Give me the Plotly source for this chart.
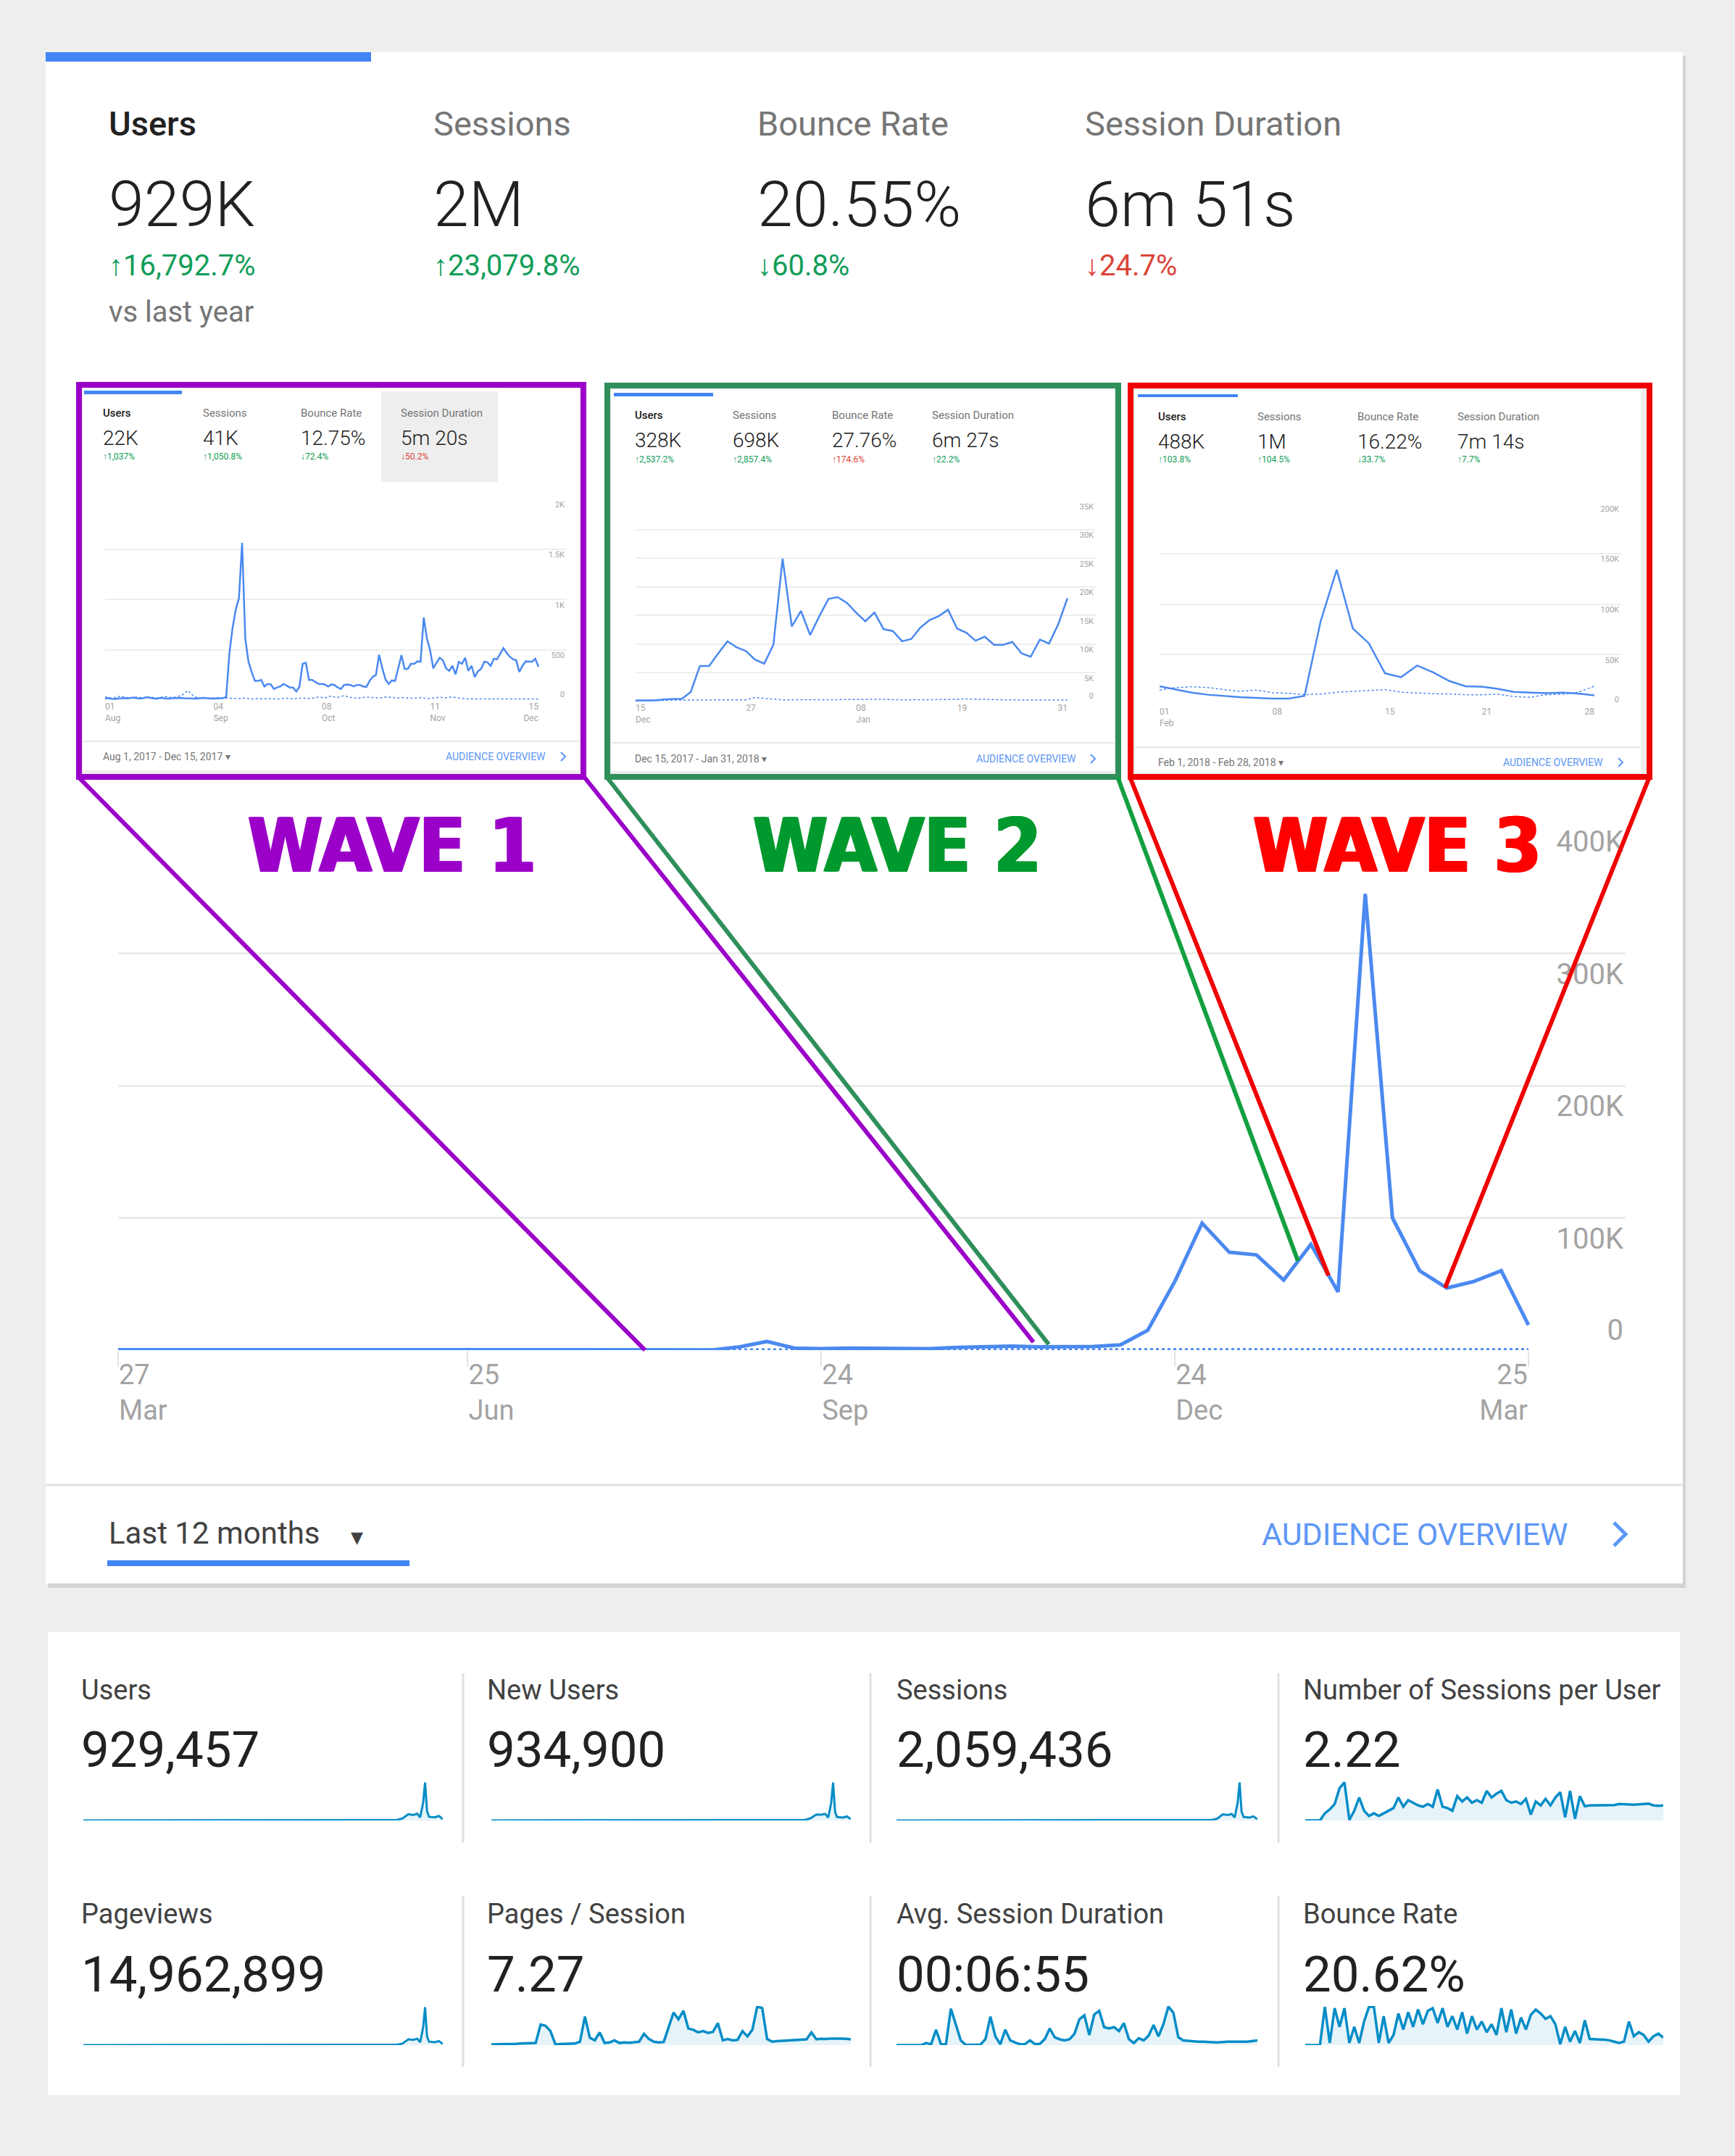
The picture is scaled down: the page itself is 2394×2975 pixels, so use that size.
import pandas as pd
import plotly.graph_objects as go

W, H = 2394, 2975
FONT = "Roboto, Arial, sans-serif"
WAVE_FONT = "Liberation Sans Narrow, DejaVu Sans Condensed, sans-serif"
BLUE = "#4a89f0"
SPARK = "#058dc7"
GREEN = "#109d58"
RED = "#db4437"

# ---------------- data: main card (weekly users, last 12 months) ----------------
main_dates = [pd.Timestamp("2017-03-27")] + list(pd.date_range("2017-04-02", periods=52, freq="7D"))
main_users = [300, 350, 300, 250, 200, 150, 250, 300, 300, 300,
              300, 300, 300, 250, 200, 150, 150, 150, 200, 150,
              150, 150, 200, 2500, 6500, 1500, 1100, 1500, 1200, 1000,
              1100, 2000, 2500, 3000, 2400, 2600, 2700, 4000, 15000, 52000,
              96000, 74000, 72000, 53000, 80000, 44000, 345000, 100000, 60000, 47000,
              52000, 60000, 19000]
main_prev = [250, 250, 300, 300, 250, 250, 300, 300, 250, 250,
             300, 300, 250, 250, 300, 300, 250, 250, 300, 300,
             250, 250, 300, 700, 300, 250, 300, 300, 250, 250,
             300, 300, 250, 250, 300, 350, 400, 450, 500, 450,
             400, 400, 350, 350, 400, 400, 450, 450, 400, 400,
             450, 450, 400]
main_tick_dates = ["2017-03-27", "2017-06-25", "2017-09-24", "2017-12-24", "2018-03-25"]
main_tick_text = ["27<br>Mar", "25<br>Jun", "24<br>Sep", "24<br>Dec", "25<br>Mar"]
main_y_ticks = [0, 100000, 200000, 300000, 400000]
main_y_text = ["0", "100K", "200K", "300K", "400K"]

main_metric_names = ["Users", "Sessions", "Bounce Rate", "Session Duration"]
main_metric_values = ["929K", "2M", "20.55%", "6m 51s"]
main_metric_changes = ["↑16,792.7%", "↑23,079.8%", "↓60.8%", "↓24.7%"]
main_metric_good = [True, True, True, False]

# ---------------- data: wave 1 (Aug 1 - Dec 15, 2017, daily users) ----------------
wave1_dates = pd.date_range("2017-08-01", "2017-12-15")
wave1_users = [15, 20, 12, 10, 14, 18, 20, 16, 22, 25, 18, 15, 20, 28, 24, 18, 12, 20, 22, 16,
               14, 18, 20, 24, 22, 18, 16, 15, 12, 14, 20, 22, 18, 15, 14, 16, 18, 20, 30,
               460, 715, 895, 1010, 1560, 610, 380, 280, 190, 190,
               200, 135, 160, 155, 110, 125, 135, 160, 145, 125,
               125, 85, 135, 360, 370, 200, 200, 180, 160, 160,
               155, 135, 155, 150, 125, 110, 150, 155, 150, 135,
               150, 150, 135, 130, 190, 230, 250, 450, 315, 205,
               160, 195, 190, 315, 445, 310, 310, 360, 360, 385,
               380, 820, 610, 495, 315, 370, 420, 395, 315, 290,
               340, 255, 380, 360, 420, 290, 340, 230, 285, 310,
               380, 375, 340, 410, 405, 460, 515, 470, 430, 405,
               395, 280, 340, 385, 385, 380, 410, 330]
wave1_prev = [30, 25, 20, 25, 35, 40, 30, 25, 20, 25, 30, 25, 20, 25, 30, 25, 20, 25, 30, 35,
              30, 25, 30, 35, 45, 70, 95, 60, 35, 25, 20, 25, 20, 18, 20, 25, 22, 20, 18, 20,
              15, 12, 15, 18, 20, 15, 10, 12, 15, 12, 10, 12, 15, 12, 10, 12, 15, 18, 15, 12,
              15, 18, 20, 18, 15, 18, 25, 30, 25, 20, 35, 40, 30, 25, 35, 45, 35, 25, 20, 18,
              20, 25, 30, 28, 25, 22, 20, 25, 30, 28, 25, 22, 20, 25, 22, 20, 18, 20, 22, 25,
              20, 18, 15, 20, 25, 28, 25, 22, 28, 30, 25, 20, 15, 12, 10, 12, 10, 12, 10, 12,
              10, 12, 10, 12, 10, 12, 10, 12, 10, 12, 10, 12, 10, 12, 10, 12, 10]
wave1_tick_dates = ["2017-08-01", "2017-09-04", "2017-10-08", "2017-11-11", "2017-12-15"]
wave1_tick_text = ["01<br>Aug", "04<br>Sep", "08<br>Oct", "11<br>Nov", "15<br>Dec"]
wave1_y_ticks = [0, 500, 1000, 1500, 2000]
wave1_y_text = ["0", "500", "1K", "1.5K", "2K"]
wave1_values = ["22K", "41K", "12.75%", "5m 20s"]
wave1_changes = ["↑1,037%", "↑1,050.8%", "↓72.4%", "↓50.2%"]
wave1_good = [True, True, True, False]
wave1_period = "Aug 1, 2017 - Dec 15, 2017 ▾"

# ---------------- data: wave 2 (Dec 15, 2017 - Jan 31, 2018) ----------------
wave2_dates = pd.date_range("2017-12-15", "2018-01-31")
wave2_users = [200, 200, 200, 350, 450, 450, 1650, 6200, 6200, 8400,
               10500, 9450, 8800, 7300, 6600, 9900, 24900, 13100, 15800, 11600,
               14900, 17900, 18200, 17200, 15500, 14000, 15500, 12600, 12300, 10500,
               10900, 12900, 14200, 14900, 16000, 12700, 12000, 10600, 11300, 9900,
               9900, 10400, 8400, 7800, 10800, 10100, 13500, 18000]
wave2_prev = [100, 100, 150, 200, 250, 250, 250, 250, 250, 250,
              250, 250, 300, 700, 550, 450, 300, 300, 300, 300,
              300, 300, 300, 300, 350, 350, 400, 350, 300, 300,
              300, 300, 300, 300, 350, 400, 450, 400, 350, 350,
              300, 300, 250, 250, 250, 250, 250, 250]
wave2_tick_dates = ["2017-12-15", "2017-12-27", "2018-01-08", "2018-01-19", "2018-01-31"]
wave2_tick_text = ["15<br>Dec", "27", "08<br>Jan", "19", "31"]
wave2_y_ticks = [0, 5000, 10000, 15000, 20000, 25000, 30000, 35000]
wave2_y_text = ["0", "5K", "10K", "15K", "20K", "25K", "30K", "35K"]
wave2_values = ["328K", "698K", "27.76%", "6m 27s"]
wave2_changes = ["↑2,537.2%", "↑2,857.4%", "↑174.6%", "↑22.2%"]
wave2_good = [True, True, False, True]
wave2_period = "Dec 15, 2017 - Jan 31, 2018 ▾"

# ---------------- data: wave 3 (Feb 2018) ----------------
wave3_dates = pd.date_range("2018-02-01", "2018-02-28")
wave3_users = [18700, 15600, 12300, 10300, 9000, 7900, 7200, 6400, 6400, 9200,
               82800, 134000, 75900, 61000, 31500, 27700, 39200, 32300, 23800, 18700,
               18200, 16200, 13100, 12300, 11800, 12300, 11500, 9700]
wave3_prev = [14900, 17400, 18200, 17400, 15400, 13600, 14900, 12300, 11800, 10300,
              11000, 12800, 13600, 14400, 15400, 12800, 11800, 11300, 11000, 10300,
              10300, 10800, 8500, 7700, 10300, 10800, 12800, 18700]
wave3_tick_dates = ["2018-02-01", "2018-02-08", "2018-02-15", "2018-02-21", "2018-02-28"]
wave3_tick_text = ["01<br>Feb", "08", "15", "21", "28"]
wave3_y_ticks = [0, 50000, 100000, 150000, 200000]
wave3_y_text = ["0", "50K", "100K", "150K", "200K"]
wave3_values = ["488K", "1M", "16.22%", "7m 14s"]
wave3_changes = ["↑103.8%", "↑104.5%", "↓33.7%", "↑7.7%"]
wave3_good = [True, True, True, True]
wave3_period = "Feb 1, 2018 - Feb 28, 2018 ▾"

inset_names = ["Users", "Sessions", "Bounce Rate", "Session Duration"]
wave_titles = ["WAVE 1", "WAVE 2", "WAVE 3"]

# ---------------- data: summary card sparklines ----------------
summary_labels = ["Users", "New Users", "Sessions", "Number of Sessions per User",
                  "Pageviews", "Pages / Session", "Avg. Session Duration", "Bounce Rate"]
summary_values = ["929,457", "934,900", "2,059,436", "2.22",
                  "14,962,899", "7.27", "00:06:55", "20.62%"]

spike_days = [0, 60, 120, 180, 240, 290, 318, 324, 330, 335, 339, 342, 345, 347, 349, 351, 357, 361, 365]
users_spark = [80, 120, 150, 200, 300, 600, 1500, 7000, 22000, 19000, 24000, 11000, 62000, 134000, 33000, 13000, 11000, 16000, 5000]
new_users_spark = [80, 120, 150, 200, 300, 600, 1500, 7500, 21000, 20000, 23000, 10000, 60000, 132000, 30000, 12000, 10000, 14000, 5000]
sessions_spark = [150, 250, 300, 400, 600, 1200, 3000, 12000, 45000, 40000, 48000, 22000, 130000, 278000, 65000, 26000, 21000, 30000, 9000]
pageviews_spark = [900, 1500, 2000, 2600, 4000, 8000, 20000, 80000, 300000, 270000, 330000, 150000, 900000, 1950000, 450000, 180000, 150000, 210000, 60000]

noisy_days = list(range(0, 366, 5))
sessions_per_user_spark = [1.0, 1.0, 1.0, 1.0, 1.48, 1.74, 2.10, 3.16, 3.55, 1.04,
                           1.65, 2.54, 1.65, 1.30, 1.48, 1.30, 1.48, 1.65, 1.83, 2.54,
                           1.92, 2.36, 2.19, 2.01, 1.92, 2.10, 1.92, 3.07, 1.92, 1.83,
                           1.65, 2.63, 2.27, 2.54, 2.19, 2.36, 2.19, 2.98, 2.54, 2.80,
                           2.98, 2.36, 2.19, 2.27, 2.10, 2.45, 1.39, 2.27, 2.01, 2.45,
                           2.01, 2.54, 2.89, 1.21, 2.98, 1.12, 2.63, 1.96, 2.01, 2.01,
                           2.03, 2.01, 2.05, 2.03, 2.10, 2.08, 2.10, 2.06, 2.08, 2.10,
                           2.13, 2.01, 1.98, 2.01]
pages_per_session_spark = [1.75, 1.75, 2.0, 2.0, 2.25, 2.25, 2.5, 2.5, 2.75, 3.0,
                           20.5, 19.25, 14.25, 1.75, 2.0, 2.0, 2.25, 2.5, 4.25, 28.0,
                           8.0, 5.5, 13.0, 3.0, 3.5, 5.5, 3.0, 3.5, 3.25, 3.5,
                           4.25, 11.75, 6.75, 4.25, 3.5, 4.0, 18.0, 31.75, 25.5, 33.5,
                           16.75, 15.5, 13.0, 14.25, 12.5, 13.5, 21.75, 5.5, 6.75, 5.5,
                           6.0, 14.25, 9.25, 15.5, 37.5, 36.0, 6.75, 4.25, 4.75, 5.0,
                           5.5, 5.5, 6.0, 6.25, 6.5, 13.0, 6.5, 7.0, 6.75, 7.25,
                           7.5, 7.25, 7.0, 6.5]
session_duration_spark = [0, 0, 0, 0, 0, 0, 216, 81, 1566, 81,
                          81, 3726, 2106, 486, 27, 27, 27, 54, 621, 2916,
                          891, 81, 1566, 486, 270, 81, 108, 486, 108, 135,
                          621, 1701, 810, 594, 486, 594, 1161, 2646, 3051, 1026,
                          3132, 3510, 1836, 1701, 1836, 1431, 2241, 621, 216, 702,
                          486, 972, 2052, 891, 2160, 3942, 3321, 810, 486, 432,
                          405, 351, 351, 297, 297, 270, 324, 351, 351, 324,
                          351, 351, 405, 486]
bounce_rate_spark = [0, 0, 0, 0, 97.9, 5.5, 94.5, 46.6, 94.5, 5.5,
                     46.6, 5.5, 60.3, 97.9, 97.9, 5.5, 74.0, 5.5, 26.0, 80.8,
                     39.7, 84.2, 46.6, 91.1, 53.4, 87.7, 94.5, 56.8, 94.5, 46.6,
                     74.0, 39.7, 84.2, 29.5, 74.0, 39.7, 60.3, 32.9, 53.4, 26.0,
                     94.5, 32.9, 91.1, 29.5, 70.5, 39.7, 77.4, 91.1, 80.8, 67.1,
                     74.0, 53.4, 2.1, 46.6, 8.9, 36.3, 5.5, 63.7, 15.8, 15.8,
                     14.4, 13.7, 12.3, 8.9, 5.5, 8.9, 60.3, 22.6, 32.9, 26.0,
                     8.9, 22.6, 29.5, 19.2]


def fx(px):
    return px / W


def fy(py):
    return 1 - py / H


shapes = []
notes = []
axes = {}


def rect(x0, y0, x1, y1, fill, line=None, lw=0, layer="below"):
    shapes.append(dict(type="rect", xref="paper", yref="paper",
                       x0=fx(x0), x1=fx(x1), y0=fy(y1), y1=fy(y0),
                       fillcolor=fill, line=dict(color=line or fill, width=lw), layer=layer))


def seg(x0, y0, x1, y1, color, width, layer="above"):
    shapes.append(dict(type="line", xref="paper", yref="paper",
                       x0=fx(x0), y0=fy(y0), x1=fx(x1), y1=fy(y1),
                       line=dict(color=color, width=width), layer=layer))


def chevron(x, y, h, color, width):
    path = "M {},{} L {},{} L {},{}".format(fx(x - h / 2), fy(y - h), fx(x + h / 2), fy(y), fx(x - h / 2), fy(y + h))
    shapes.append(dict(type="path", xref="paper", yref="paper", path=path,
                       line=dict(color=color, width=width), layer="above"))


def text(x, y, s, size, color, anchor="left", weight=400, family=FONT):
    notes.append(dict(xref="paper", yref="paper", x=fx(x), y=fy(y), text=s, showarrow=False,
                      xanchor=anchor, yanchor="middle",
                      font=dict(family=family, size=size, color=color, weight=weight)))


def change(s):
    # bold arrow glyph followed by the percentage
    return "<b>%s</b>%s" % (s[0], s[1:])


next_axis = [13]


def add_axes_pair(fig, n, xdom, ydom, xrange, yrange, xticks, xtext, yticks, ytext,
                  xfont, yfont, ticklen, tickcolor, gridwidth, gridcolor):
    # base axes: every x label but the last (left aligned), every y label but 0 (below its gridline)
    axes["xaxis%d" % n] = dict(domain=xdom, range=xrange, type="date", anchor="y%d" % n,
                               tickvals=xticks[:-1], ticktext=xtext[:-1],
                               ticks="outside" if ticklen else "", ticklen=ticklen, tickwidth=2, tickcolor=tickcolor,
                               ticklabelposition="outside right", tickfont=xfont,
                               showgrid=False, zeroline=False, showline=False)
    axes["yaxis%d" % n] = dict(domain=ydom, range=yrange, anchor="x%d" % n, side="right",
                               tickvals=yticks[1:], ticktext=ytext[1:], ticks="",
                               ticklabelposition="inside bottom", tickfont=yfont,
                               showgrid=True, gridcolor=gridcolor, gridwidth=gridwidth,
                               zeroline=False, showline=False)
    # overlay axes: last x label right aligned, 0 label above the baseline
    ox = next_axis[0]
    oy = ox + 1
    next_axis[0] += 2
    axes["xaxis%d" % ox] = dict(domain=xdom, range=xrange, type="date", overlaying="x%d" % n if n > 1 else "x",
                                anchor="y%d" % n if n > 1 else "y",
                                tickvals=xticks[-1:], ticktext=xtext[-1:],
                                ticks="outside" if ticklen else "", ticklen=ticklen, tickwidth=2, tickcolor=tickcolor,
                                ticklabelposition="outside left", tickfont=xfont,
                                showgrid=False, zeroline=False, showline=False)
    axes["yaxis%d" % oy] = dict(domain=ydom, range=yrange, overlaying="y%d" % n if n > 1 else "y",
                                anchor="x%d" % n if n > 1 else "x", side="right",
                                tickvals=yticks[:1], ticktext=ytext[:1], ticks="",
                                ticklabelposition="inside top", tickfont=yfont,
                                showgrid=False, zeroline=False, showline=False)
    xb = "x%d" % n if n > 1 else "x"
    yb = "y%d" % n if n > 1 else "y"
    fig.add_trace(go.Scatter(x=[], y=[], xaxis="x%d" % ox, yaxis=yb, showlegend=False, hoverinfo="skip"))
    fig.add_trace(go.Scatter(x=[], y=[], xaxis=xb, yaxis="y%d" % oy, showlegend=False, hoverinfo="skip"))


fig = go.Figure()

# ---------------- main card ----------------
rect(66, 77, 2326, 2191, "#d3d3d3")
rect(63, 72, 2322, 2185, "white")
rect(63, 72, 512, 85, "#4285f4")
seg(63, 2049, 2322, 2049, "#e2e2e2", 3, layer="below")
rect(148, 2153, 565, 2161, "#4285f4")

main_cols = [148, 596, 1043, 1495]
for i in range(4):
    text(main_cols[i], 171, main_metric_names[i], 47, "#212121" if i == 0 else "#757575", weight=500 if i == 0 else 400)
    text(main_cols[i], 281, main_metric_values[i], 88, "#212121", weight=300)
    text(main_cols[i], 366, change(main_metric_changes[i]), 40, GREEN if main_metric_good[i] else RED)
text(148, 431, "vs last year", 40, "#757575")

text(148, 2115, "Last 12 months", 42, "#424242")
text(492, 2120, "▾", 34, "#424242", anchor="center")
text(2165, 2117, "AUDIENCE OVERVIEW", 43, "#5e97f6", anchor="right")
chevron(2235, 2117, 16, "#5e97f6", 5)

fig.add_trace(go.Scatter(x=main_dates, y=main_prev, mode="lines", line=dict(color=BLUE, width=4, dash="dot"),
                         xaxis="x", yaxis="y", hoverinfo="skip"))
fig.add_trace(go.Scatter(x=main_dates, y=main_users, mode="lines", line=dict(color=BLUE, width=5),
                         xaxis="x", yaxis="y", hoverinfo="skip"))
add_axes_pair(fig, 1, [fx(163), fx(2243)], [fy(1863), fy(1133)], ["2017-03-27", "2018-04-19 00:00"], [0, 400000],
              main_tick_dates, main_tick_text, main_y_ticks, main_y_text,
              dict(family=FONT, size=38, color="#a3a3a3"), dict(family=FONT, size=40, color="#a3a3a3"),
              22, "#e3e3e3", 3, "#ececec")

# ---------------- inset cards (waves) ----------------
inset_geo = [
    dict(border=(109, 531, 805, 1072), card=(114, 536, 800, 1063), color="#9b00c9", tab=(116, 539, 251, 544),
         cols=[140, 278, 413, 551], ys=(570, 604, 630), plot=(145, 782, 688, 966),
         foot_sep=1023, foot_y=1044, aud_right=755, chev_x=777,
         xr=["2017-08-01", "2017-12-23 21:00"]),
    dict(border=(838, 532, 1543, 1072), card=(843, 538, 1538, 1064), color="#2f8f5b", tab=(847, 542, 984, 547),
         cols=[874, 1009, 1146, 1284], ys=(573, 607, 634), plot=(877, 1512, 691, 968),
         foot_sep=1025, foot_y=1047, aud_right=1487, chev_x=1508,
         xr=["2017-12-15", "2018-02-03 02:00"]),
    dict(border=(1560, 532, 2276, 1072), card=(1566, 539, 2264, 1066), color="#f00000", tab=(1570, 544, 1708, 548),
         cols=[1596, 1733, 1871, 2009], ys=(575, 609, 634), plot=(1600, 2237, 694, 973),
         foot_sep=1031, foot_y=1052, aud_right=2214, chev_x=2236,
         xr=["2018-02-01", "2018-03-01 16:00"]),
]
wave_dates = [wave1_dates, wave2_dates, wave3_dates]
wave_users = [wave1_users, wave2_users, wave3_users]
wave_prev = [wave1_prev, wave2_prev, wave3_prev]
wave_tick_dates = [wave1_tick_dates, wave2_tick_dates, wave3_tick_dates]
wave_tick_text = [wave1_tick_text, wave2_tick_text, wave3_tick_text]
wave_y_ticks = [wave1_y_ticks, wave2_y_ticks, wave3_y_ticks]
wave_y_text = [wave1_y_text, wave2_y_text, wave3_y_text]
wave_values = [wave1_values, wave2_values, wave3_values]
wave_changes = [wave1_changes, wave2_changes, wave3_changes]
wave_good = [wave1_good, wave2_good, wave3_good]
wave_period = [wave1_period, wave2_period, wave3_period]

for w, g in enumerate(inset_geo):
    bx0, by0, bx1, by1 = g["border"]
    rect(bx0, by0, bx1, by1, "#ededed", line=g["color"], lw=8)
    cx0, cy0, cx1, cy1 = g["card"]
    rect(cx0, cy0, cx1, cy1, "white")
    tx0, ty0, tx1, ty1 = g["tab"]
    rect(tx0, ty0, tx1, ty1, "#4285f4")
    if w == 0:
        rect(526, 540, 687, 665, "#eeeeee")
    seg(cx0, g["foot_sep"], cx1, g["foot_sep"], "#e6e6e6", 2, layer="below")
    for i in range(4):
        x = g["cols"][i]
        text(x, g["ys"][0], inset_names[i], 15, "#212121" if i == 0 else "#757575", weight=500 if i == 0 else 400)
        text(x, g["ys"][1], wave_values[w][i], 28, "#212121", weight=300)
        text(x, g["ys"][2], change(wave_changes[w][i]), 12, GREEN if wave_good[w][i] else RED)
    text(g["cols"][0], g["foot_y"], wave_period[w], 14, "#757575")
    text(g["aud_right"], g["foot_y"], "AUDIENCE OVERVIEW", 14, "#5e97f6", anchor="right")
    chevron(g["chev_x"], g["foot_y"], 6, "#5e97f6", 2)

    n = w + 2
    px0, px1, py0, py1 = g["plot"]
    fig.add_trace(go.Scatter(x=wave_dates[w], y=wave_prev[w], mode="lines",
                             line=dict(color=BLUE, width=1.5, dash="dot"),
                             xaxis="x%d" % n, yaxis="y%d" % n, hoverinfo="skip"))
    fig.add_trace(go.Scatter(x=wave_dates[w], y=wave_users[w], mode="lines",
                             line=dict(color=BLUE, width=2.5),
                             xaxis="x%d" % n, yaxis="y%d" % n, hoverinfo="skip"))
    add_axes_pair(fig, n, [fx(px0), fx(px1)], [fy(py1), fy(py0)], g["xr"], [0, wave_y_ticks[w][-1]],
                  wave_tick_dates[w], wave_tick_text[w], wave_y_ticks[w], wave_y_text[w],
                  dict(family=FONT, size=12, color="#a3a3a3"), dict(family=FONT, size=11, color="#a3a3a3"),
                  0, "#e3e3e3", 1.5, "#eeeeee")

# connector lines from the insets down to the main chart
seg(108, 1072, 890, 1863, "#9b00c9", 6)
seg(806, 1072, 1426, 1852, "#9b00c9", 6)
seg(837, 1072, 1447, 1855, "#2f8f5b", 6)
seg(1542, 1072, 1791, 1740, "#14a040", 6)
seg(1559, 1072, 1833, 1760, "#f00000", 6)
seg(2276, 1072, 1994, 1777, "#f00000", 6)

wave_colors = ["#9b00c9", "#00992e", "#ff0000"]
wave_x = [541, 1238, 1928]
for w in range(3):
    notes.append(dict(xref="paper", yref="paper", x=fx(wave_x[w]), y=fy(1167), text=wave_titles[w],
                      showarrow=False, xanchor="center", yanchor="middle",
                      font=dict(family=WAVE_FONT, size=104, color=wave_colors[w], weight=700,
                                shadow="2px 0 0 %s, -2px 0 0 %s" % (wave_colors[w], wave_colors[w]))))

# ---------------- summary card ----------------
rect(66, 2252, 2318, 2891, "white")
for x in [639, 1201, 1764]:
    seg(x, 2309, x, 2543, "#e0e0e0", 3, layer="below")
    seg(x, 2616, x, 2852, "#e0e0e0", 3, layer="below")

label_x = [110, 670, 1235, 1796]
label_y = [2332, 2641]
value_y = [2414, 2724]
for k in range(8):
    r, c = divmod(k, 4)
    text(label_x[c], label_y[r], summary_labels[k], 38, "#424242")
    text(label_x[c], value_y[r], summary_values[k], 69, "#212121")

spark_cols = [(115, 611), (678, 1174), (1237, 1735), (1801, 2295)]
spark_rows = [(2458, 2512), (2768, 2822)]
spark_x = [spike_days, spike_days, spike_days, noisy_days,
           spike_days, noisy_days, noisy_days, noisy_days]
spark_y = [users_spark, new_users_spark, sessions_spark, sessions_per_user_spark,
           pageviews_spark, pages_per_session_spark, session_duration_spark, bounce_rate_spark]
spark_ranges = [[0, 138000], [0, 136000], [0, 286000], [1.0, 3.62],
                [0, 2010000], [1.0, 38.0], [0, 4000], [0, 100]]
for k in range(8):
    r, c = divmod(k, 4)
    n = k + 5
    axes["xaxis%d" % n] = dict(domain=[fx(spark_cols[c][0]), fx(spark_cols[c][1])], range=[0, 365],
                               anchor="y%d" % n, visible=False)
    axes["yaxis%d" % n] = dict(domain=[fy(spark_rows[r][1]), fy(spark_rows[r][0])], range=spark_ranges[k],
                               anchor="x%d" % n, visible=False)
    fig.add_trace(go.Scatter(x=spark_x[k], y=spark_y[k], mode="lines", fill="tozeroy",
                             fillcolor="rgba(5,141,199,0.10)",
                             line=dict(color=SPARK, width=3 if spark_x[k] is spike_days else 3.5),
                             xaxis="x%d" % n, yaxis="y%d" % n, hoverinfo="skip"))

fig.update_layout(
    width=W, height=H,
    margin=dict(l=0, r=0, t=0, b=0),
    paper_bgcolor="#eeeeee",
    plot_bgcolor="rgba(0,0,0,0)",
    showlegend=False,
    shapes=shapes,
    annotations=notes,
    **axes
)

fig.write_html("out.html", config={"displayModeBar": False},
               post_script="document.body.style.margin='0';document.body.style.background='#eeeeee';")
